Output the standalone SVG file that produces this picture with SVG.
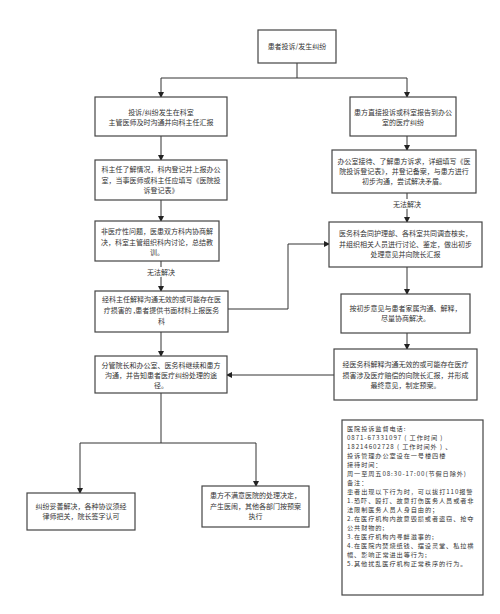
<svg xmlns="http://www.w3.org/2000/svg" width="500" height="614" viewBox="0 0 500 614">
<defs>
<marker id="ah" markerWidth="6" markerHeight="6" refX="5" refY="3" orient="auto" markerUnits="userSpaceOnUse">
<path d="M0,0 L6,3 L0,6 Z" fill="#222"/>
</marker>
<style>
.box{fill:#fff;stroke:#444;stroke-width:1.2}
.t{font-family:"Noto Sans CJK SC","Liberation Sans",sans-serif;font-size:7px;fill:#333;text-anchor:middle}
.tl{font-family:"Noto Sans CJK SC","Liberation Sans",sans-serif;font-size:6.2px;letter-spacing:0.9px;fill:#333}
.ln{fill:none;stroke:#333;stroke-width:1}
</style>
</defs>
<rect width="500" height="614" fill="#fff"/>
<g id="connectors">
<path class="ln" d="M297,63 V78"/>
<path class="ln" d="M161,78 H407"/>
<path class="ln" d="M161,78 V97" marker-end="url(#ah)"/>
<path class="ln" d="M407,78 V97" marker-end="url(#ah)"/>
<path class="ln" d="M161,136 V160" marker-end="url(#ah)"/>
<path class="ln" d="M407,136 V150" marker-end="url(#ah)"/>
<path class="ln" d="M161,200 V221" marker-end="url(#ah)"/>
<path class="ln" d="M407,193 V199"/>
<path class="ln" d="M407,209 V222" marker-end="url(#ah)"/>
<path class="ln" d="M161,261 V267"/>
<path class="ln" d="M161,277 V291" marker-end="url(#ah)"/>
<path class="ln" d="M228,309 H288 V244 H329" marker-end="url(#ah)"/>
<path class="ln" d="M407,267 V294" marker-end="url(#ah)"/>
<path class="ln" d="M407,333 V349" marker-end="url(#ah)"/>
<path class="ln" d="M334,375 H227" marker-end="url(#ah)"/>
<path class="ln" d="M161,332 V356" marker-end="url(#ah)"/>
<path class="ln" d="M161,393 V443"/>
<path class="ln" d="M80,443 H256"/>
<path class="ln" d="M80,443 V493" marker-end="url(#ah)"/>
<path class="ln" d="M256,443 V486" marker-end="url(#ah)"/>
<text class="t" x="407" y="206.5">无法解决</text>
<text class="t" x="161" y="274.5">无法解决</text>
</g>
<g id="n-start">
<rect class="box" x="258" y="30" width="78" height="33"/>
<text class="t" x="297" y="49">患者投诉/发生纠纷</text>
</g>
<g id="n-left1">
<rect class="box" x="95" y="97" width="132" height="39"/>
<text class="t" x="161" y="115">投诉/纠纷发生在科室</text>
<text class="t" x="161" y="125">主管医师及时沟通并向科主任汇报</text>
</g>
<g id="n-right1">
<rect class="box" x="350" y="97" width="106" height="39"/>
<text class="t" x="403" y="115">患方直接投诉或科室报告到办公</text>
<text class="t" x="403" y="124.5">室的医疗纠纷</text>
</g>
<g id="n-left2">
<rect class="box" x="95" y="160" width="132" height="40"/>
<text class="t" x="161" y="172">科主任了解情况，科内登记并上报办公</text>
<text class="t" x="161" y="182.5">室，当事医师或科主任应填写《医院投</text>
<text class="t" x="161" y="193">诉登记表》</text>
</g>
<g id="n-right2">
<rect class="box" x="332" y="150" width="144" height="43"/>
<text class="t" x="404" y="164">办公室接待、了解患方诉求，详细填写《医</text>
<text class="t" x="404" y="174">院投诉登记表》，并登记备案，与患方进行</text>
<text class="t" x="404" y="184">初步沟通，尝试解决矛盾。</text>
</g>
<g id="n-left3">
<rect class="box" x="95" y="221" width="124" height="40"/>
<text class="t" x="157" y="234">非医疗性问题，医患双方科内协商解</text>
<text class="t" x="157" y="244.5">决，科室主管组织科内讨论，总结教</text>
<text class="t" x="157" y="255">训。</text>
</g>
<g id="n-right3">
<rect class="box" x="329" y="222" width="153" height="45"/>
<text class="t" x="405.5" y="236">医务科会同护理部、各科室共同调查核实，</text>
<text class="t" x="405.5" y="246.5">并组织相关人员进行讨论、鉴定，做出初步</text>
<text class="t" x="405.5" y="257">处理意见并向院长汇报</text>
</g>
<g id="n-left4">
<rect class="box" x="95" y="291" width="133" height="41"/>
<text class="t" x="161.5" y="302">经科主任解释沟通无效的或可能存在医</text>
<text class="t" x="161.5" y="313">疗损害的 ,患者提供书面材料上报医务</text>
<text class="t" x="161.5" y="324">科</text>
</g>
<g id="n-right4">
<rect class="box" x="341" y="294" width="129" height="39"/>
<text class="t" x="405.5" y="311">按初步意见与患者家属沟通、解释，</text>
<text class="t" x="405.5" y="321">尽量协商解决。</text>
</g>
<g id="n-right5">
<rect class="box" x="334" y="349" width="143" height="51"/>
<text class="t" x="405.5" y="367">经医务科解释沟通无效的或可能存在医疗</text>
<text class="t" x="405.5" y="377.5">损害涉及医疗赔偿的向院长汇报，并形成</text>
<text class="t" x="405.5" y="388">最终意见，制定预案。</text>
</g>
<g id="n-left5">
<rect class="box" x="95" y="356" width="132" height="37"/>
<text class="t" x="161" y="368">分管院长和办公室、医务科继续和患方</text>
<text class="t" x="161" y="378">沟通，并告知患者医疗纠纷处理的途</text>
<text class="t" x="161" y="388">径。</text>
</g>
<g id="n-bl">
<rect class="box" x="27" y="493" width="108" height="37"/>
<text class="t" x="81" y="509">纠纷妥善解决，各种协议须经</text>
<text class="t" x="81" y="519">律师把关，院长签字认可</text>
</g>
<g id="n-br">
<rect class="box" x="202" y="486" width="107" height="41"/>
<text class="t" x="255.5" y="498">患方不满意医院的处理决定，</text>
<text class="t" x="255.5" y="508.5">产生医闹，其他各部门按预案</text>
<text class="t" x="255.5" y="519">执行</text>
</g>
<g id="n-notes">
<rect class="box" x="342" y="420" width="141" height="175"/>
<text class="tl" x="347" y="431">医院投诉监督电话:</text>
<text class="tl" x="347" y="440">0871-67331097 ( 工作时间 )</text>
<text class="tl" x="347" y="449">18214602728 ( 工作时间外 ) 、</text>
<text class="tl" x="347" y="458">投诉管理办公室设在一号楼四楼</text>
<text class="tl" x="347" y="467">接待时间：</text>
<text class="tl" x="347" y="476">周一至周五08:30-17:00(节假日除外)</text>
<text class="tl" x="347" y="485">备注：</text>
<text class="tl" x="347" y="494">患者出现以下行为时，可以拔打110报警</text>
<text class="tl" x="347" y="503">1.恐吓、殴打、故意打伤医务人员或者非</text>
<text class="tl" x="347" y="512">法限制医务人员人身自由的；</text>
<text class="tl" x="347" y="521">2.在医疗机构内故意毁损或者盗窃、抢夺</text>
<text class="tl" x="347" y="530">公共财物的;</text>
<text class="tl" x="347" y="539">3.在医疗机构内寻衅滋事的;</text>
<text class="tl" x="347" y="548">4.在医院内焚烧纸钱、摆设灵堂、私拉横</text>
<text class="tl" x="347" y="557">幅、影响正常进出等行为;</text>
<text class="tl" x="347" y="566">5.其他扰乱医疗机构正常秩序的行为。</text>
</g>
</svg>
